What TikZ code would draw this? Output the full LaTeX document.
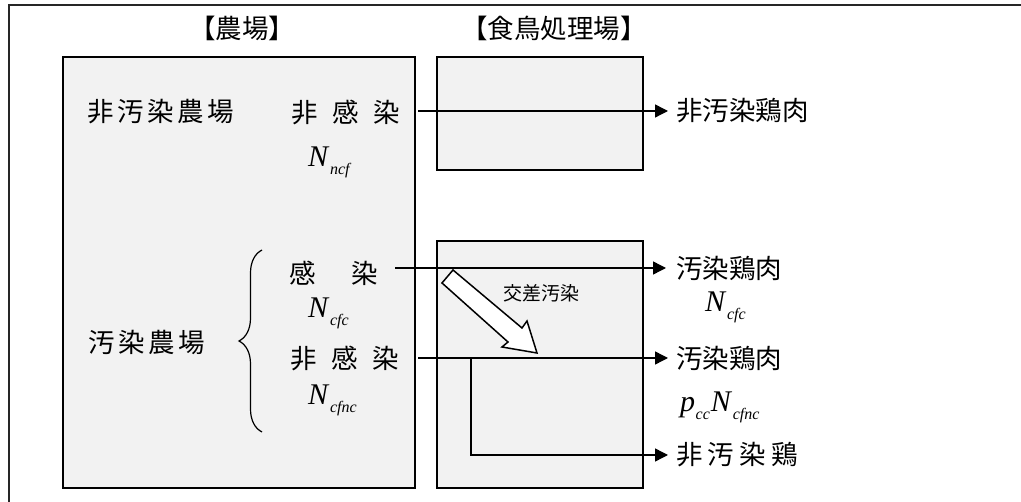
\documentclass[tikz,border=0pt]{standalone}
\usepackage{fontspec}
\setmainfont{Liberation Serif}
\newfontfamily\cjk{Noto Sans CJK JP}
\usetikzlibrary{arrows.meta,decorations.pathreplacing}
\newcommand\Nsub[2]{\textit{#1}\kern0.5pt\raisebox{-8pt}{\fontsize{16}{16}\selectfont\textit{#2}}}
\newcommand\gapz{\hspace{0.13em}}
\begin{document}
\begin{tikzpicture}[x=1pt,y=-1pt,
  box/.style={draw=black,line width=1.8pt,fill=gray!10},
  cjktxt/.style={font=\cjk\fontsize{26.5}{30}\selectfont,inner sep=0pt},
  gothic/.style={font=\cjk\fontsize{19}{22}\selectfont,inner sep=0pt},
  mathtxt/.style={font=\fontsize{30}{32}\selectfont,inner sep=0pt,anchor=base west},
  flow/.style={line width=1.4pt,-{Triangle[length=13pt,width=13pt]}},
  plain/.style={line width=1.4pt}]
\useasboundingbox (0,0) rectangle (1021,502);
% outer frame
\draw[line width=1.8pt,draw=black!85] (9,510) -- (9,5) -- (1030,5);
% boxes
\node[box,minimum width=352pt,minimum height=431pt,anchor=north west,inner sep=0pt] (farm) at (62,56) {};
\node[box,minimum width=206pt,minimum height=113pt,anchor=north west,inner sep=0pt] (proctop) at (436,56) {};
\node[box,minimum width=206pt,minimum height=247pt,anchor=north west,inner sep=0pt] (procbot) at (436,240) {};
% titles
\node[cjktxt] (t1) at (242,28) {【農場】};
\node[cjktxt] (t2) at (554,28) {【食鳥処理場】};
% farm texts
\node[cjktxt] (ncfarm) at (161,112) {非\gapz 汚\gapz 染\gapz 農\gapz 場};
\node[cjktxt] (nk1) at (346,112) {非\hspace{0.55em}感\hspace{0.55em}染};
\node[mathtxt] (nncf) at (308,167) {\Nsub{N}{ncf}};
\node[cjktxt] (cfarm) at (147,342) {汚\gapz 染\gapz 農\gapz 場};
\node[cjktxt] (k2) at (334,273) {感\hspace{1.35em}染};
\node[mathtxt] (ncfc) at (308,318) {\Nsub{N}{cfc}};
\node[cjktxt] (nk2) at (345,358) {非\hspace{0.55em}感\hspace{0.55em}染};
\node[mathtxt] (ncfnc) at (308,405) {\Nsub{N}{cfnc}};
% brace
\draw[line width=1.2pt,decorate,decoration={brace,amplitude=23pt,aspect=0.5}] (262,432) -- (262,250);
% outputs
\node[cjktxt,anchor=west] (o1) at (676,111) {非汚染鶏肉};
\node[cjktxt,anchor=west] (o2) at (676,268) {汚染鶏肉};
\node[mathtxt] (o2n) at (705,312) {\Nsub{N}{cfc}};
\node[cjktxt,anchor=west] (o3) at (676,358) {汚染鶏肉};
\node[mathtxt] (o3n) at (680,412) {\Nsub{p}{cc}\kern1pt\Nsub{N}{cfnc}};
\node[cjktxt,anchor=west] (o4) at (676,455) {非\hspace{0.2em}汚\hspace{0.2em}染\hspace{0.2em}鶏};
% connectors
\coordinate (s1) at (418,111);
\coordinate (s2) at (395,268);
\coordinate (s3) at (418,358);
\coordinate (br) at (471,358);
\coordinate (e1) at (668,111);
\coordinate (e2) at (666,268);
\coordinate (e3) at (668,358);
\coordinate (e4) at (668,455);
\draw[flow] (s1) -- (e1);
\draw[flow] (s2) -- (e2);
\draw[flow] (s3) -- (e3);
\draw[flow] (br) |- (e4);
% cross contamination block arrow
\draw[line width=1.5pt,fill=white,line join=miter]
  (453,270) -- (522,328) -- (527,321) -- (537,353) -- (502,347) -- (508,342) -- (442,283) -- cycle;
\node[gothic] (cc) at (541,293) {交差汚染};
\end{tikzpicture}
\end{document}
